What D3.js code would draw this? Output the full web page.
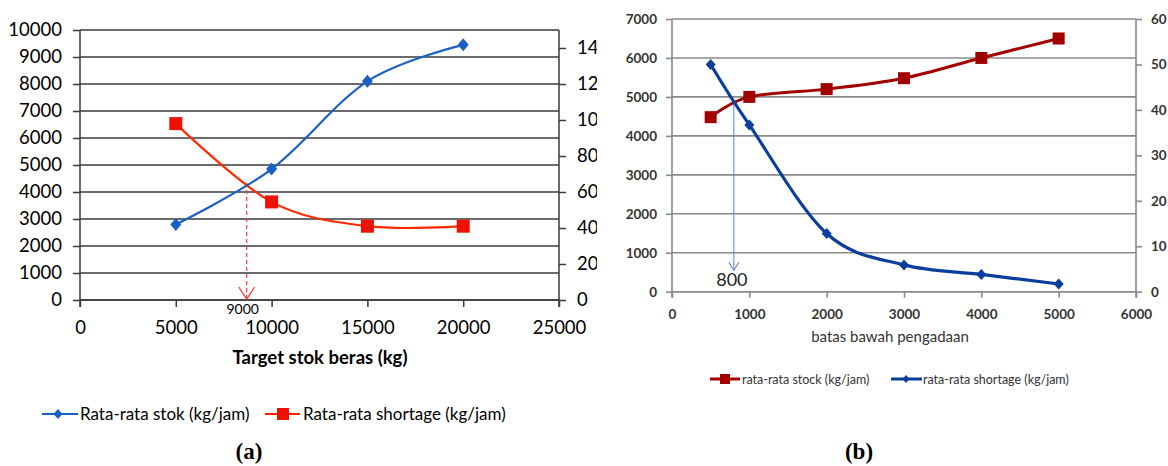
<!DOCTYPE html>
<html>
<head>
<meta charset="utf-8">
<script src="https://cdn.jsdelivr.net/npm/d3@7"></script>
<style>
  body { margin: 0; background: #fff; }
  svg text { font-family: Lato, "Open Sans", sans-serif; }
</style>
</head>
<body>
<div id="chart"></div>
<script>
/* DATA */
// (a) target stok beras
const targetStok = [5000, 10000, 15000, 20000];
const rataStok = [2800, 4850, 8100, 9450];
const rataShortageA = [98, 54.5, 41, 41];
const aXTicks = [0, 5000, 10000, 15000, 20000, 25000];
const aYTicks = [0, 1000, 2000, 3000, 4000, 5000, 6000, 7000, 8000, 9000, 10000];
const aY2Ticks = [0, 20, 40, 60, 80, 100, 120, 140];

// (b) batas bawah pengadaan
const batasBawah = [500, 1000, 2000, 3000, 4000, 5000];
const rataStock = [4480, 5000, 5200, 5480, 6000, 6500];
const rataShortageB = [50, 36.7, 12.8, 5.9, 3.8, 1.7];
const bXTicks = [0, 1000, 2000, 3000, 4000, 5000, 6000];
const bYTicks = [0, 1000, 2000, 3000, 4000, 5000, 6000, 7000];
const bY2Ticks = [0, 10, 20, 30, 40, 50, 60];

/* CONSTANTS */
const width = 1168, height = 466;
const blueA = "#1a5fc4", redA = "#ff2a00";
const redB = "#a30000", blueB = "#0a3d9c";

const svg = d3.select("#chart").append("svg")
  .attr("width", width)
  .attr("height", height);

// ---------- (a) ----------
const xA = d3.scaleLinear().domain([0, 25000]).range([80, 559]);
const yA = d3.scaleLinear().domain([0, 10000]).range([300, 30]);
const yA2 = d3.scaleLinear().domain([0, 150]).range([300, 30]);

svg.append("clipPath").attr("id", "clipA")
  .append("rect").attr("x", 0).attr("y", 0).attr("width", 597).attr("height", height);

const gA = svg.append("g").attr("clip-path", "url(#clipA)");

gA.selectAll(".gridA")
  .data(aYTicks)
  .join("line")
  .attr("x1", xA(0)).attr("x2", xA(25000))
  .attr("y1", d => yA(d)).attr("y2", d => yA(d))
  .attr("stroke", "#3a3a3a").attr("stroke-width", 1.5);

const axA_y = gA.append("g")
  .attr("transform", `translate(${xA(0)},0)`)
  .call(d3.axisLeft(yA).tickValues(aYTicks).tickSize(7).tickPadding(11).tickFormat(d3.format("d")));
const axA_y2 = gA.append("g")
  .attr("transform", `translate(${xA(25000)},0)`)
  .call(d3.axisRight(yA2).tickValues(aY2Ticks).tickSize(7).tickPadding(11).tickFormat(d3.format("d")));
const axA_x = gA.append("g")
  .attr("transform", `translate(0,${yA(0)})`)
  .call(d3.axisBottom(xA).tickValues(aXTicks).tickSize(7).tickPadding(14).tickFormat(d3.format("d")));

[axA_y, axA_y2, axA_x].forEach(ax => {
  ax.selectAll("path.domain").attr("stroke", "#3a3a3a").attr("stroke-width", 1.5);
  ax.selectAll(".tick line").attr("stroke", "#3a3a3a").attr("stroke-width", 1.5);
  ax.selectAll("text").attr("font-size", 18.5).attr("fill", "#000")
    .style("font-family", "Lato, sans-serif");
});
axA_y.select("path.domain").attr("d", `M0,${yA(0) + 7}V${yA(10000)}`);
axA_y2.select("path.domain").attr("d", `M0,${yA(0) + 7}V${yA(10000)}`);
axA_x.select("path.domain").attr("d", `M0,0H${xA(25000) - xA(0)}`).attr("transform", `translate(${xA(0)},0)`);

const smooth = d3.curveCardinal.tension(0);

// dashed guide at 9000
const guideA = { x: 8700, from: 4330, label: "9000" };
gA.append("line")
  .attr("x1", xA(guideA.x)).attr("x2", xA(guideA.x))
  .attr("y1", yA(guideA.from)).attr("y2", yA(0) - 1)
  .attr("stroke", "#ff3a3a").attr("stroke-width", 1.2).attr("stroke-dasharray", "4,3");
gA.append("path")
  .attr("d", `M${xA(guideA.x) - 8},${yA(0) - 13}L${xA(guideA.x)},${yA(0) - 1}L${xA(guideA.x) + 8},${yA(0) - 13}`)
  .attr("fill", "none").attr("stroke", "#ff3a3a").attr("stroke-width", 1.3);
gA.append("text")
  .attr("x", xA(guideA.x) - 4).attr("y", yA(0) + 14)
  .attr("text-anchor", "middle").attr("font-size", 14).attr("fill", "#000")
  .text(guideA.label);

const lineA1 = d3.line().curve(smooth).x((d, i) => xA(targetStok[i])).y(d => yA(d));
const lineA2 = d3.line().curve(smooth).x((d, i) => xA(targetStok[i])).y(d => yA2(d));

gA.append("path").datum(rataShortageA).attr("d", lineA2)
  .attr("fill", "none").attr("stroke", redA).attr("stroke-width", 2.2);
gA.append("path").datum(rataStok).attr("d", lineA1)
  .attr("fill", "none").attr("stroke", blueA).attr("stroke-width", 2.2);

gA.selectAll(".sqA")
  .data(rataShortageA)
  .join("rect")
  .attr("x", (d, i) => xA(targetStok[i]) - 6.5).attr("y", d => yA2(d) - 6.5)
  .attr("width", 13).attr("height", 13).attr("fill", "#ee1100");
gA.selectAll(".dmA")
  .data(rataStok)
  .join("path")
  .attr("transform", (d, i) => `translate(${xA(targetStok[i])},${yA(d)})`)
  .attr("d", "M0,-6.5L5.5,0L0,6.5L-5.5,0Z").attr("fill", blueA);

svg.append("text")
  .attr("x", 320).attr("y", 364).attr("text-anchor", "middle")
  .attr("font-size", 18.5).attr("font-weight", "bold").attr("fill", "#000")
  .text("Target stok beras (kg)");

// legend (a)
const legA = svg.append("g");
legA.append("line").attr("x1", 42).attr("x2", 78).attr("y1", 414).attr("y2", 414)
  .attr("stroke", blueA).attr("stroke-width", 2.2);
legA.append("path").attr("transform", "translate(58,414)")
  .attr("d", "M0,-5L4.5,0L0,5L-4.5,0Z").attr("fill", blueA);
legA.append("text").attr("x", 80).attr("y", 420).attr("font-size", 17).attr("fill", "#000")
  .text("Rata-rata stok (kg/jam)");
legA.append("line").attr("x1", 265).attr("x2", 300).attr("y1", 414).attr("y2", 414)
  .attr("stroke", "#ff1a00").attr("stroke-width", 2.2);
legA.append("rect").attr("x", 277).attr("y", 408).attr("width", 12).attr("height", 12).attr("fill", "#ee1100");
legA.append("text").attr("x", 303).attr("y", 420).attr("font-size", 17).attr("fill", "#000")
  .text("Rata-rata shortage (kg/jam)");

svg.append("text")
  .attr("x", 249).attr("y", 459).attr("text-anchor", "middle")
  .attr("font-size", 23).attr("font-weight", "bold").attr("fill", "#000")
  .style("font-family", "'Liberation Serif', serif")
  .text("(a)");

// ---------- (b) ----------
const xB = d3.scaleLinear().domain([0, 6000]).range([672, 1136]);
const yB = d3.scaleLinear().domain([0, 7000]).range([291.7, 19]);
const yB2 = d3.scaleLinear().domain([0, 60]).range([291.7, 19]);

const gB = svg.append("g");

gB.selectAll(".gridB")
  .data(bYTicks)
  .join("line")
  .attr("x1", xB(0)).attr("x2", xB(6000))
  .attr("y1", d => yB(d)).attr("y2", d => yB(d))
  .attr("stroke", "#8a8a8a").attr("stroke-width", 1.6);

const axB_y = gB.append("g")
  .attr("transform", `translate(${xB(0)},0)`)
  .call(d3.axisLeft(yB).tickValues(bYTicks).tickSize(6).tickPadding(9).tickFormat(d3.format("d")));
const axB_y2 = gB.append("g")
  .attr("transform", `translate(${xB(6000)},0)`)
  .call(d3.axisRight(yB2).tickValues(bY2Ticks).tickSize(6).tickPadding(9).tickFormat(d3.format("d")));
const axB_x = gB.append("g")
  .attr("transform", `translate(0,${yB(0)})`)
  .call(d3.axisBottom(xB).tickValues(bXTicks).tickSize(6).tickPadding(12).tickFormat(d3.format("d")));

[axB_y, axB_y2, axB_x].forEach(ax => {
  ax.selectAll("path.domain").attr("stroke", "#8a8a8a").attr("stroke-width", 1.6);
  ax.selectAll(".tick line").attr("stroke", "#8a8a8a").attr("stroke-width", 1.6);
  ax.selectAll("text").attr("font-size", 13.5).attr("font-weight", "bold").attr("fill", "#333")
    .style("font-family", "Lato, sans-serif");
});
axB_y.select("path.domain").attr("d", `M0,${yB(0) + 6}V${yB(7000)}`);
axB_y2.select("path.domain").attr("d", `M0,${yB(0) + 6}V${yB(7000)}`);
axB_x.select("path.domain").attr("d", `M0,0H${xB(6000) - xB(0)}`).attr("transform", `translate(${xB(0)},0)`);

// guide at 800
const guideB = { x: 800, from: 4915, to: 550, label: "800" };
gB.append("line")
  .attr("x1", xB(guideB.x)).attr("x2", xB(guideB.x))
  .attr("y1", yB(guideB.from)).attr("y2", yB(guideB.to))
  .attr("stroke", "#5b87c6").attr("stroke-width", 1);
gB.append("path")
  .attr("d", `M${xB(guideB.x) - 5},${yB(guideB.to) - 8}L${xB(guideB.x)},${yB(guideB.to)}L${xB(guideB.x) + 5},${yB(guideB.to) - 8}`)
  .attr("fill", "none").attr("stroke", "#5b87c6").attr("stroke-width", 1.1);
gB.append("text")
  .attr("x", xB(guideB.x) - 2).attr("y", yB(guideB.to) + 16)
  .attr("text-anchor", "middle").attr("font-size", 18).attr("fill", "#222")
  .text(guideB.label);

const lineB1 = d3.line().curve(smooth).x((d, i) => xB(batasBawah[i])).y(d => yB(d));
const lineB2 = d3.line().curve(smooth).x((d, i) => xB(batasBawah[i])).y(d => yB2(d));

gB.append("path").datum(rataStock).attr("d", lineB1)
  .attr("fill", "none").attr("stroke", redB).attr("stroke-width", 3);
gB.append("path").datum(rataShortageB).attr("d", lineB2)
  .attr("fill", "none").attr("stroke", blueB).attr("stroke-width", 3.2);

gB.selectAll(".sqB")
  .data(rataStock)
  .join("rect")
  .attr("x", (d, i) => xB(batasBawah[i]) - 6).attr("y", d => yB(d) - 6)
  .attr("width", 12).attr("height", 12).attr("fill", redB);
gB.selectAll(".dmB")
  .data(rataShortageB)
  .join("path")
  .attr("transform", (d, i) => `translate(${xB(batasBawah[i])},${yB2(d)})`)
  .attr("d", "M0,-5.5L5,0L0,5.5L-5,0Z").attr("fill", blueB);

svg.append("text")
  .attr("x", 890).attr("y", 342).attr("text-anchor", "middle")
  .attr("font-size", 15).attr("fill", "#333")
  .text("batas bawah pengadaan");

// legend (b)
const legB = svg.append("g");
legB.append("line").attr("x1", 710).attr("x2", 740).attr("y1", 379).attr("y2", 379)
  .attr("stroke", redB).attr("stroke-width", 3);
legB.append("rect").attr("x", 720).attr("y", 374).attr("width", 10).attr("height", 10).attr("fill", redB);
legB.append("text").attr("x", 742).attr("y", 383.5).attr("font-size", 12.5).attr("fill", "#333")
  .text("rata-rata stock (kg/jam)");
legB.append("line").attr("x1", 891).attr("x2", 922).attr("y1", 379).attr("y2", 379)
  .attr("stroke", blueB).attr("stroke-width", 3);
legB.append("path").attr("transform", "translate(906,379)")
  .attr("d", "M0,-4L3.5,0L0,4L-3.5,0Z").attr("fill", blueB);
legB.append("text").attr("x", 923).attr("y", 383.5).attr("font-size", 12.5).attr("fill", "#333")
  .text("rata-rata shortage (kg/jam)");

svg.append("text")
  .attr("x", 859).attr("y", 459).attr("text-anchor", "middle")
  .attr("font-size", 23).attr("font-weight", "bold").attr("fill", "#000")
  .style("font-family", "'Liberation Serif', serif")
  .text("(b)");
</script>
</body>
</html>
